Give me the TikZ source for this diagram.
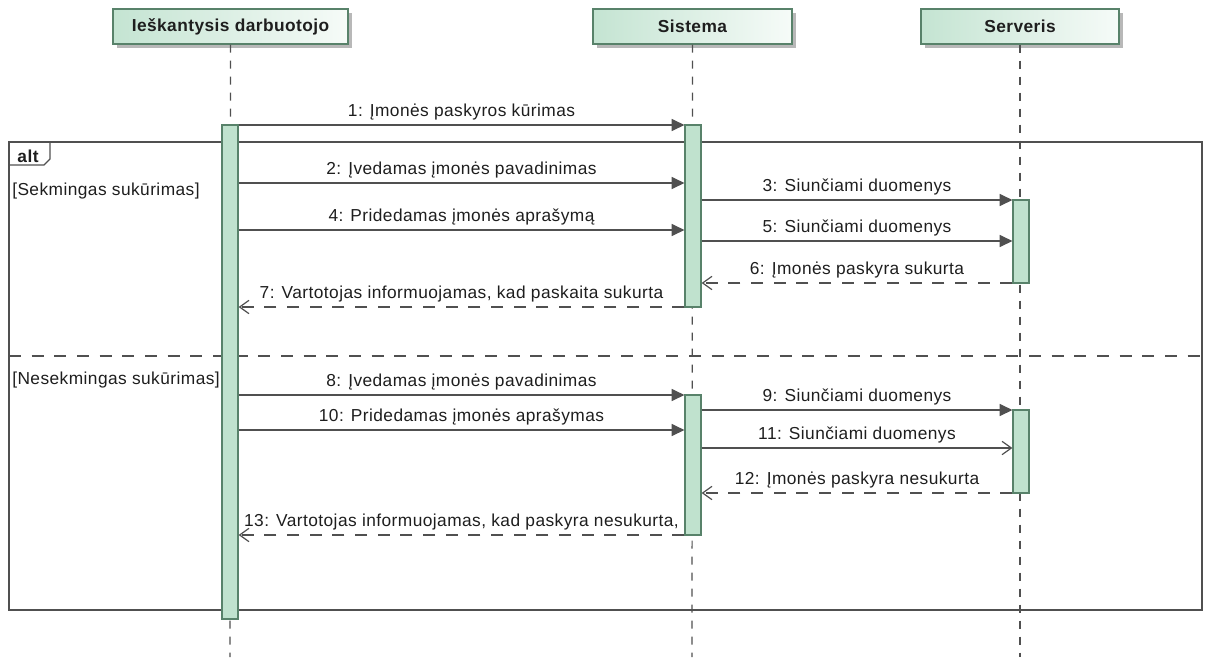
\documentclass[tikz,border=0pt]{standalone}
\usepackage{fontspec}
\setmainfont{Liberation Sans}
\newfontfamily\lblfont[LetterSpace=2.5]{Liberation Sans}
\usetikzlibrary{arrows.meta,shadows}
\definecolor{barfill}{RGB}{192,226,206}
\definecolor{bardraw}{RGB}{88,130,106}
\definecolor{hdrleft}{RGB}{196,228,210}
\definecolor{hdrright}{RGB}{246,251,248}
\definecolor{ln}{RGB}{80,80,80}
\definecolor{txt}{RGB}{30,30,30}
\tikzset{
  lbl/.style={font=\lblfont\fontsize{13}{15}\selectfont, text=txt, inner sep=0pt},
  hdr/.style={draw=bardraw, line width=0.9pt, left color=hdrleft, right color=hdrright,
     minimum height=26.25pt, font=\lblfont\fontsize{13}{15}\selectfont\bfseries, text=txt,
     drop shadow={shadow xshift=3pt, shadow yshift=-3pt, fill=black!35, opacity=0.8}},
  bar/.style={draw=bardraw, fill=barfill, line width=0.9pt, minimum width=12pt, inner sep=0pt},
  life/.style={draw=ln, line width=0.9pt, dash pattern=on 6pt off 6pt},
  msg/.style={draw=ln, line width=0.9pt, -{Triangle[length=9.5pt,width=9pt]}},
  ret/.style={draw=ln, line width=0.9pt, dash pattern=on 9pt off 8pt, -{Straight Barb[length=7pt,width=10pt]}},
  async/.style={draw=ln, line width=0.9pt, -{Straight Barb[length=7pt,width=10pt]}},
  mlab/.style={lbl, anchor=base, yshift=6.2pt},
  frame/.style={draw=ln, line width=1pt},
}
\begin{document}
\begin{tikzpicture}[x=0.75pt,y=-0.75pt]
\useasboundingbox (0,0) rectangle (1206,657);
% headers
\node[hdr, minimum width=176.25pt] (h1) at (230.5,26.5) {Ieškantysis darbuotojo};
\node[hdr, minimum width=149.25pt] (h2) at (692.5,26.5) {Sistema};
\node[hdr, minimum width=148.5pt] (h3) at (1020,26.5) {Serveris};
% lifelines
\coordinate (e1) at (230,657);
\coordinate (e2) at (692,657);
\coordinate (e3) at (1020,657);
\draw[life] (h1.south) -- (e1);
\draw[life] (h2.south) -- (e2);
\draw[life] (h3.south) -- (e3);
% alt frame
\draw[frame] (9,142) rectangle (1202,610);
\draw[frame] (9,165) -- (44,165) -- (50,159) -- (50,142);
\node[lbl, font=\lblfont\fontsize{13}{15}\selectfont\bfseries] (alt) at (28,156) {alt};
\node[lbl, anchor=west] (g1) at (12,191) {[Sekmingas sukūrimas]};
\node[lbl, anchor=west] (g2) at (12,380) {[Nesekmingas sukūrimas]};
\draw[draw=ln, line width=1pt, dash pattern=on 9pt off 8pt] (9,356) -- (1202,356);
% activation bars
\node[bar, minimum height=370.5pt] (a1) at (230,372) {};
\node[bar, minimum height=136.5pt] (a2) at (693,216) {};
\node[bar, minimum height=62.25pt] (a3) at (1021,241.5) {};
\node[bar, minimum height=105pt] (a4) at (693,465) {};
\node[bar, minimum height=62.25pt] (a5) at (1021,451.5) {};
% messages
\draw[msg] (a1.east |- 0,125) -- (a2.west |- 0,125) node[mlab, midway] {1: Įmonės paskyros kūrimas};
\draw[msg] (a1.east |- 0,183) -- (a2.west |- 0,183) node[mlab, midway] {2: Įvedamas įmonės pavadinimas};
\draw[msg] (a2.east |- 0,200) -- (a3.west |- 0,200) node[mlab, midway] {3: Siunčiami duomenys};
\draw[msg] (a1.east |- 0,230) -- (a2.west |- 0,230) node[mlab, midway] {4: Pridedamas įmonės aprašymą};
\draw[msg] (a2.east |- 0,241) -- (a3.west |- 0,241) node[mlab, midway] {5: Siunčiami duomenys};
\draw[ret] (a3.west |- 0,283) -- (a2.east |- 0,283) node[mlab, midway] {6: Įmonės paskyra sukurta};
\draw[ret] (a2.west |- 0,307) -- (a1.east |- 0,307) node[mlab, midway] {7: Vartotojas informuojamas, kad paskaita sukurta};
\draw[msg] (a1.east |- 0,395) -- (a4.west |- 0,395) node[mlab, midway] {8: Įvedamas įmonės pavadinimas};
\draw[msg] (a4.east |- 0,410) -- (a5.west |- 0,410) node[mlab, midway] {9: Siunčiami duomenys};
\draw[msg] (a1.east |- 0,430) -- (a4.west |- 0,430) node[mlab, midway] {10: Pridedamas įmonės aprašymas};
\draw[async] (a4.east |- 0,448) -- (a5.west |- 0,448) node[mlab, midway] {11: Siunčiami duomenys};
\draw[ret] (a5.west |- 0,493) -- (a4.east |- 0,493) node[mlab, midway] {12: Įmonės paskyra nesukurta};
\draw[ret] (a4.west |- 0,535) -- (a1.east |- 0,535) node[mlab, midway] {13: Vartotojas informuojamas, kad paskyra nesukurta,};
\end{tikzpicture}
\end{document}
